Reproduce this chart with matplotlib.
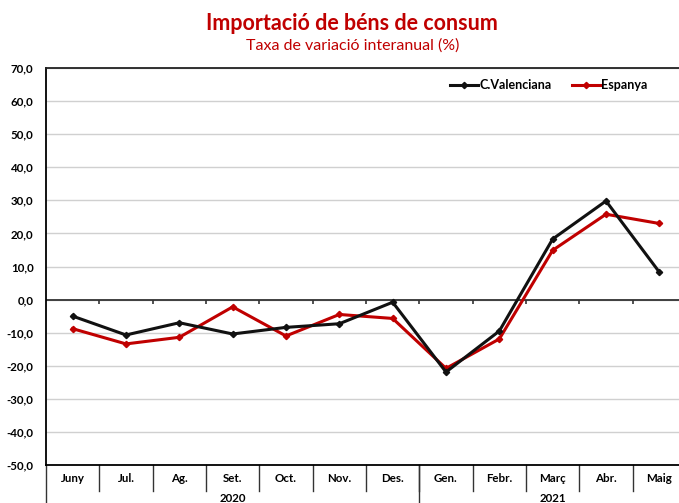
import matplotlib
matplotlib.use("Agg")
import matplotlib.pyplot as plt
import matplotlib.transforms as mtransforms

months = ["Juny", "Jul.", "Ag.", "Set.", "Oct.", "Nov.", "Des.",
          "Gen.", "Febr.", "Març", "Abr.", "Maig"]
years = ["2020", "2021"]
year_counts = [7, 5]
cval = [-5.0, -10.7, -7.0, -10.4, -8.4, -7.3, -0.8, -21.9, -9.5, 18.3, 29.8, 8.3]
espanya = [-8.8, -13.4, -11.4, -2.2, -11.0, -4.5, -5.7, -20.8, -11.9, 14.9, 25.8, 23.0]
yticks = [70, 60, 50, 40, 30, 20, 10, 0, -10, -20, -30, -40, -50]

plt.rcParams['font.family'] = ['Lato', 'DejaVu Sans']
W, H = 679, 503
fig = plt.figure(figsize=(W / 100, H / 100), dpi=100)
ax = fig.add_axes([46 / W, 38 / H, 640 / W, 397 / H])

x = list(range(len(months)))
red = "#C00000"
ax.plot(x, cval, color="#111111", lw=2.2, marker="D", ms=3.2, label="C.Valenciana", zorder=4)
ax.plot(x, espanya, color=red, lw=2.2, marker="D", ms=3.2, label="Espanya", zorder=3)

ax.set_xlim(-0.5, 11.5)
ax.set_ylim(-50, 70)
ax.set_yticks(yticks)
ax.set_yticklabels([f"{v:.1f}".replace(".", ",") for v in yticks],
                   fontsize=8.3, fontweight="bold")
ax.tick_params(axis="y", length=0, pad=9)
ax.set_xticks([])
ax.grid(axis="y", color="#d0d0d0", lw=1.0)
ax.set_axisbelow(True)
ax.spines["right"].set_visible(False)
ax.spines["top"].set_color("#222222")
ax.spines["top"].set_linewidth(1.3)
ax.spines["left"].set_linewidth(1.3)
ax.spines["bottom"].set_linewidth(1.3)

# zero line with tick marks
ax.axhline(0, color="#333333", lw=1.3, zorder=2)
bounds = [i + 0.5 for i in range(len(months) - 1)]
ax.vlines(bounds, -1.3, 0, color="#333333", lw=1.2, zorder=2)

# category labels and separators below axes
trans = mtransforms.blended_transform_factory(ax.transData, fig.transFigure)
for i, m in enumerate(months):
    ax.text(i, (H - 478) / H, m, transform=trans, ha="center", va="center",
            fontsize=8.3, fontweight="bold", clip_on=False)
for b in bounds:
    ax.plot([b, b], [(H - 465) / H, (H - 491) / H], transform=trans,
            color="#333333", lw=1.0, clip_on=False)
# year labels
start = 0
for yr, n in zip(years, year_counts):
    center = start + (n - 1) / 2
    ax.text(center, (H - 498) / H, yr, transform=trans, ha="center", va="center",
            fontsize=8.3, fontweight="bold", clip_on=False)
    ax.plot([start - 0.5, start - 0.5], [(H - 465) / H, 0], transform=trans,
            color="#333333", lw=1.0, clip_on=False)
    start += n

leg = ax.legend(loc="upper right", bbox_to_anchor=(0.958, 1.0), ncol=2, frameon=False,
                prop={"size": 9, "weight": "bold"}, handlelength=2.2,
                handletextpad=0.15, columnspacing=1.6)

fig.text(0.518, (H - 23) / H, "Importació de béns de consum", ha="center", va="center",
         color=red, fontsize=15.5, fontweight="bold")
fig.text(0.52, (H - 46) / H, "Taxa de variació interanual (%)", ha="center", va="center",
         color=red, fontsize=11.5)

fig.savefig("out.png", dpi=100)
